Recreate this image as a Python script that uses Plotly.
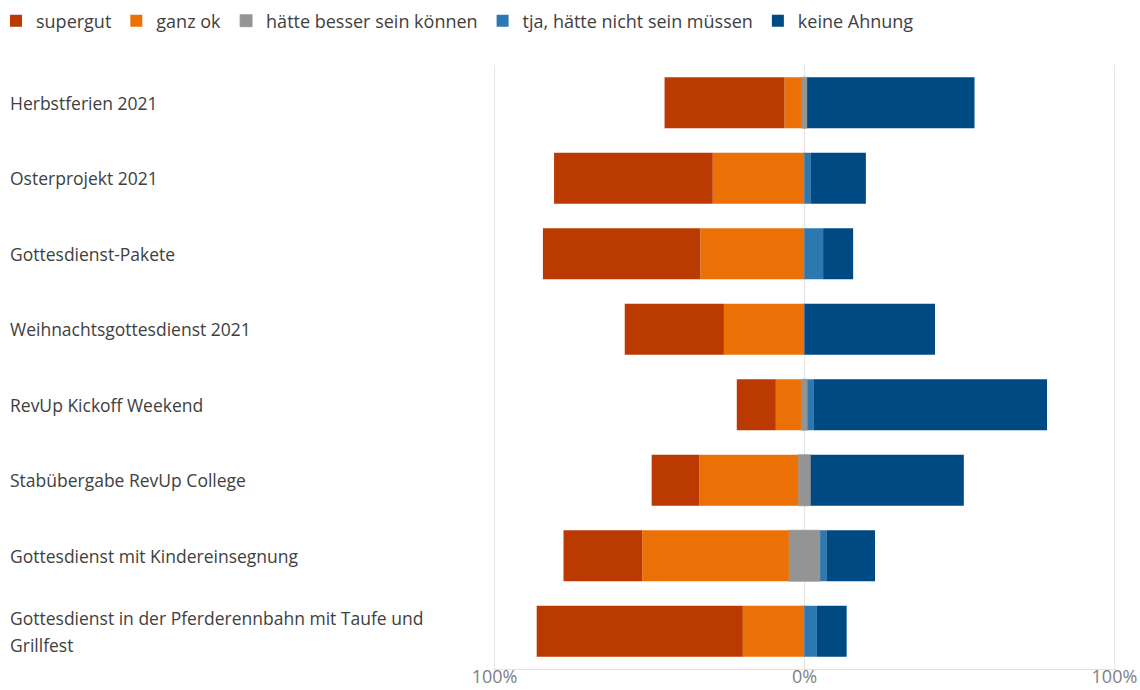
import plotly.graph_objects as go

categories = [
    "Herbstferien 2021",
    "Osterprojekt 2021",
    "Gottesdienst-Pakete",
    "Weihnachtsgottesdienst 2021",
    "RevUp Kickoff Weekend",
    "Stabübergabe RevUp College",
    "Gottesdienst mit Kindereinsegnung",
    "Gottesdienst in der Pferderennbahn mit Taufe und<br>Grillfest",
]
supergut = [38.7, 51.2, 50.8, 32.0, 12.6, 15.4, 25.4, 66.5]
ganz_ok = [5.6, 29.6, 33.6, 26.0, 8.3, 31.9, 47.3, 19.9]
haette_besser = [1.7, 0.0, 0.0, 0.0, 1.9, 4.0, 10.1, 0.0]
tja = [0.0, 1.9, 6.0, 0.0, 2.1, 0.0, 2.0, 4.0]
keine_ahnung = [54.0, 17.9, 9.7, 42.1, 75.2, 49.4, 15.7, 9.6]

tick_vals = [-100, 0, 100]
tick_text = ["100%", "0%", "100%"]

names = ["supergut", "ganz ok", "hätte besser sein können", "tja, hätte nicht sein müssen", "keine Ahnung"]
colors = ["#BA3A02", "#EB7107", "#949494", "#2C78B0", "#004A83"]

FONT = "Open Sans"
fig = go.Figure()

bar_common = dict(orientation="h", y=categories, hoverinfo="skip")
no_line = dict(marker_line_width=0)
gray_line = dict(marker_line=dict(width=0.8, color=colors[2]))

# negative side (stacked outward from zero in trace order)
fig.add_trace(go.Bar(x=[-v / 2 for v in haette_besser], name=names[2], marker_color=colors[2],
                     legendgroup="g", showlegend=False, **gray_line, **bar_common))
fig.add_trace(go.Bar(x=[-v for v in ganz_ok], name=names[1], marker_color=colors[1],
                     legendrank=2, **no_line, **bar_common))
fig.add_trace(go.Bar(x=[-v for v in supergut], name=names[0], marker_color=colors[0],
                     legendrank=1, **no_line, **bar_common))
# positive side
fig.add_trace(go.Bar(x=[v / 2 for v in haette_besser], name=names[2], marker_color=colors[2],
                     legendgroup="g", legendrank=3, **gray_line, **bar_common))
fig.add_trace(go.Bar(x=tja, name=names[3], marker_color=colors[3], legendrank=4,
                     **no_line, **bar_common))
fig.add_trace(go.Bar(x=keine_ahnung, name=names[4], marker_color=colors[4], legendrank=5,
                     **no_line, **bar_common))

W, H = 1140, 690
ml, mr, mt, mb = 493, 24, 65, 21
pw = W - ml - mr
ph = H - mt - mb
xrange = [-100.5, 100.5]

annotations = []
for cat in categories:
    lines = cat.split("<br>")
    n = len(lines)
    for i, line in enumerate(lines):
        annotations.append(dict(
            x=(8 - ml) / pw, xref="paper", y=cat, yref="y",
            text=line, showarrow=False, xanchor="left", align="left",
            yshift=(n - 1) * 13.5 - i * 27,
            font=dict(family=FONT, size=17.5, color="#404040"),
        ))

fig.update_layout(
    width=W, height=H,
    margin=dict(l=ml, r=mr, t=mt, b=mb, autoexpand=False),
    barmode="relative",
    bargap=0.325,
    plot_bgcolor="white",
    paper_bgcolor="white",
    font=dict(family=FONT, size=17.5, color="#404040"),
    legend=dict(
        orientation="h", x=(-4 - ml) / pw, xanchor="left",
        y=1 + (mt - 21) / ph, yanchor="middle",
        traceorder="normal", font=dict(family=FONT, size=18, color="#404040"),
        itemclick=False, itemdoubleclick=False,
    ),
    xaxis=dict(
        range=xrange,
        tickmode="array", tickvals=tick_vals, ticktext=tick_text,
        tickfont=dict(family=FONT, size=18, color="#7f7f7f"), ticklabelstandoff=-9,
        showgrid=True, gridcolor="#e6e6e6", gridwidth=1,
        zeroline=False, automargin=False,
        showline=True, linecolor="#e0e0e0", linewidth=1,
        fixedrange=True,
    ),
    yaxis=dict(
        autorange="reversed", showticklabels=False, showgrid=False,
        zeroline=False, showline=False, fixedrange=True, automargin=False,
    ),
    shapes=[
        # cover the solid grid line at 0 and redraw it dashed (behind the bars)
        dict(type="line", xref="x", yref="paper", x0=0, x1=0, y0=0.002, y1=1,
             line=dict(color="white", width=3), layer="between"),
        dict(type="line", xref="x", yref="paper", x0=0, x1=0, y0=0.002, y1=1,
             line=dict(color="#d8d8d8", width=1.2, dash="8px,5px"), layer="between"),
    ],
    annotations=annotations,
)

fig.write_html("out.html")
